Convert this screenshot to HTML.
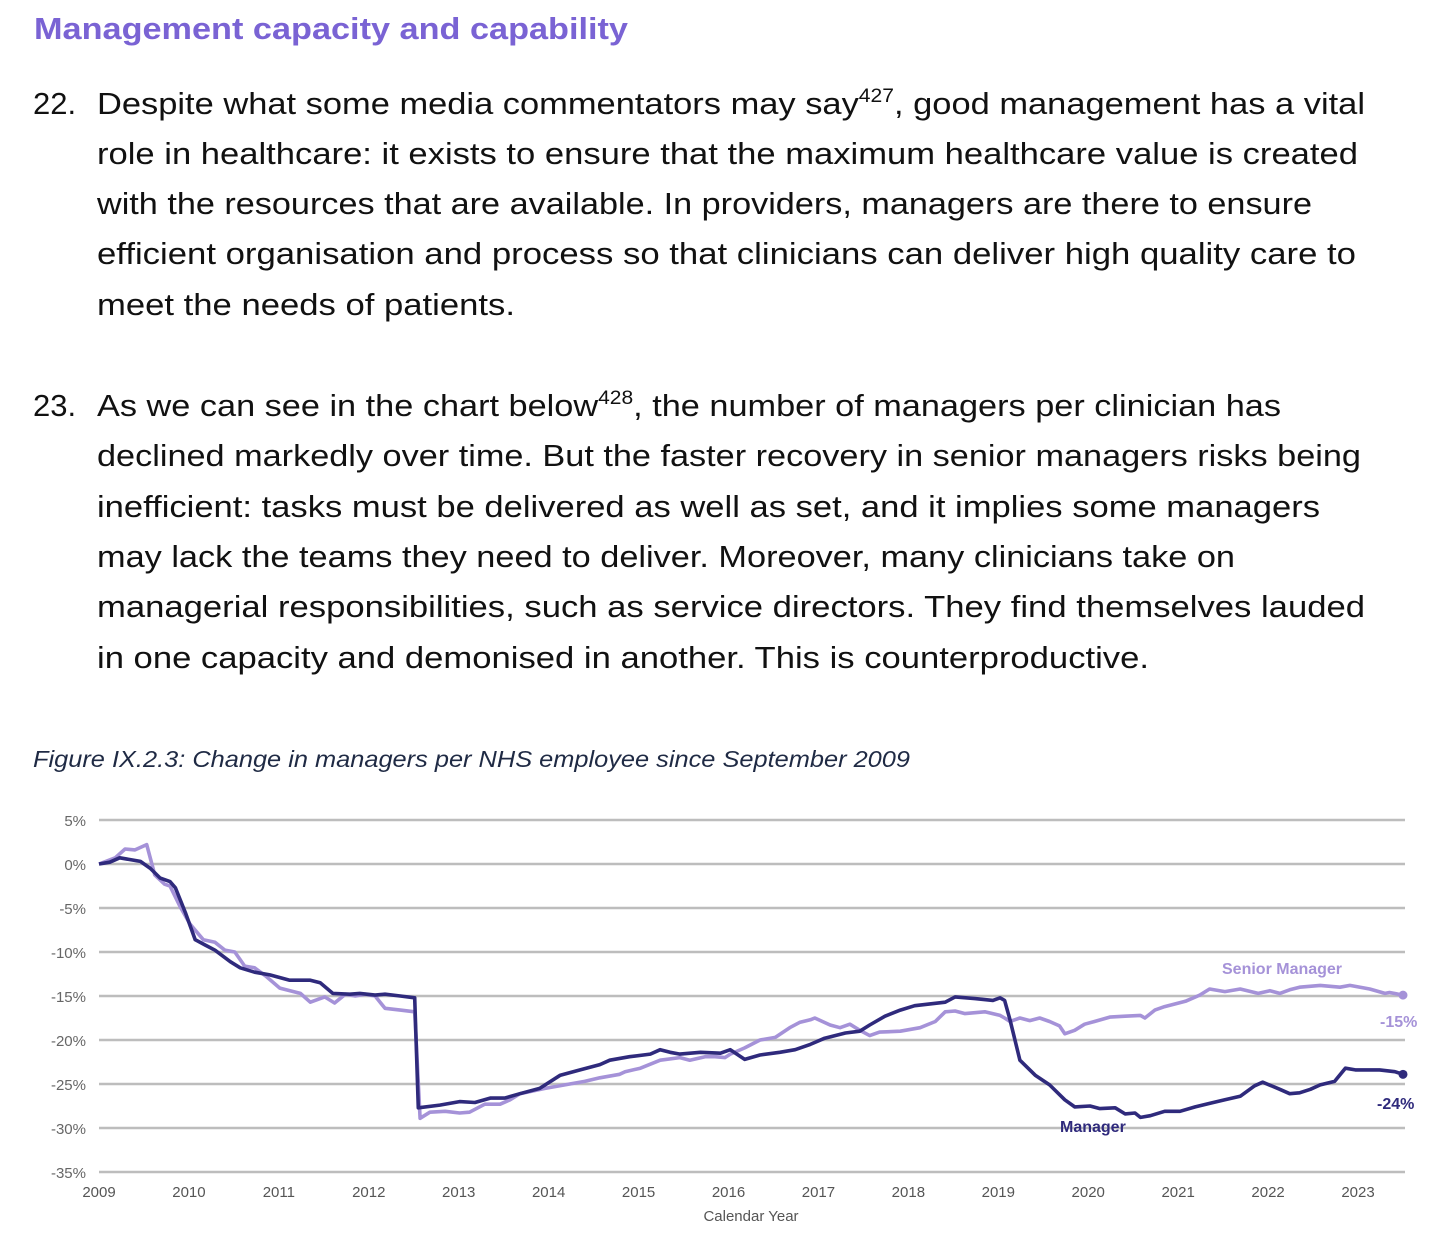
<!DOCTYPE html>
<html><head><meta charset="utf-8"><style>
body{margin:0;background:#fff;}
svg{display:block;font-family:"Liberation Sans",sans-serif;}
</style></head><body>
<svg id="page" width="1456" height="1247" viewBox="0 0 1456 1247">
<text x="34" y="39" font-size="31" font-weight="bold" fill="#7a63d4" textLength="594" lengthAdjust="spacingAndGlyphs">Management capacity and capability</text>
<g font-size="31" fill="#111">
<text x="33" y="114">22.</text>
<text x="97" y="114" textLength="1268" lengthAdjust="spacingAndGlyphs">Despite what some media commentators may say<tspan font-size="19" dy="-12">427</tspan><tspan dy="12">, good management has a vital</tspan></text>
<text x="97" y="164" textLength="1261" lengthAdjust="spacingAndGlyphs">role in healthcare: it exists to ensure that the maximum healthcare value is created</text>
<text x="97" y="214" textLength="1215" lengthAdjust="spacingAndGlyphs">with the resources that are available. In providers, managers are there to ensure</text>
<text x="97" y="264" textLength="1259" lengthAdjust="spacingAndGlyphs">efficient organisation and process so that clinicians can deliver high quality care to</text>
<text x="97" y="315" textLength="418" lengthAdjust="spacingAndGlyphs">meet the needs of patients.</text>
</g>
<g font-size="31" fill="#111">
<text x="33" y="416">23.</text>
<text x="97" y="416" textLength="1184" lengthAdjust="spacingAndGlyphs">As we can see in the chart below<tspan font-size="19" dy="-12">428</tspan><tspan dy="12">, the number of managers per clinician has</tspan></text>
<text x="97" y="466" textLength="1264" lengthAdjust="spacingAndGlyphs">declined markedly over time. But the faster recovery in senior managers risks being</text>
<text x="97" y="517" textLength="1223" lengthAdjust="spacingAndGlyphs">inefficient: tasks must be delivered as well as set, and it implies some managers</text>
<text x="97" y="567" textLength="1138" lengthAdjust="spacingAndGlyphs">may lack the teams they need to deliver. Moreover, many clinicians take on</text>
<text x="97" y="617" textLength="1268" lengthAdjust="spacingAndGlyphs">managerial responsibilities, such as service directors. They find themselves lauded</text>
<text x="97" y="668" textLength="1052" lengthAdjust="spacingAndGlyphs">in one capacity and demonised in another. This is counterproductive.</text>
</g>
<text x="33" y="767" font-size="23" font-style="italic" fill="#1f2a44" textLength="877" lengthAdjust="spacingAndGlyphs">Figure IX.2.3: Change in managers per NHS employee since September 2009</text>
<g id="chart"></g>
</svg>
<script>
const yTicks=[5,0,-5,-10,-15,-20,-25,-30,-35];
const yTickLabels=["5%","0%","-5%","-10%","-15%","-20%","-25%","-30%","-35%"];
const xTicks=[2009,2010,2011,2012,2013,2014,2015,2016,2017,2018,2019,2020,2021,2022,2023];
const managerYears=[0,0.12,0.23,0.46,0.57,0.68,0.79,0.85,0.96,1.07,1.18,1.29,1.46,1.57,1.73,1.90,2.12,2.35,2.46,2.60,2.79,2.90,3.07,3.18,3.35,3.51,3.55,3.79,4.01,4.18,4.35,4.51,4.68,4.90,5.13,5.35,5.57,5.68,5.90,6.13,6.24,6.35,6.46,6.69,6.91,7.02,7.18,7.35,7.57,7.74,7.91,8.07,8.30,8.46,8.57,8.74,8.91,9.07,9.41,9.52,9.74,9.94,10.02,10.07,10.13,10.24,10.41,10.57,10.74,10.85,11.02,11.13,11.30,11.41,11.52,11.58,11.69,11.85,12.02,12.19,12.35,12.52,12.69,12.85,12.94,13.13,13.24,13.35,13.47,13.58,13.74,13.86,13.97,14.24,14.41,14.50];
const managerValues=[0,0.2,0.7,0.3,-0.5,-1.6,-2.0,-2.7,-5.5,-8.6,-9.2,-9.8,-11.1,-11.8,-12.3,-12.6,-13.2,-13.2,-13.5,-14.7,-14.8,-14.7,-14.9,-14.8,-15.0,-15.2,-27.7,-27.4,-27.0,-27.1,-26.6,-26.6,-26.1,-25.5,-24.0,-23.4,-22.8,-22.3,-21.9,-21.6,-21.1,-21.4,-21.6,-21.4,-21.5,-21.1,-22.2,-21.7,-21.4,-21.1,-20.5,-19.8,-19.2,-19.0,-18.3,-17.3,-16.6,-16.1,-15.7,-15.1,-15.3,-15.5,-15.2,-15.5,-17.7,-22.3,-24.0,-25.1,-26.8,-27.6,-27.5,-27.8,-27.7,-28.4,-28.3,-28.8,-28.6,-28.1,-28.1,-27.6,-27.2,-26.8,-26.4,-25.2,-24.8,-25.6,-26.1,-26.0,-25.6,-25.1,-24.7,-23.2,-23.4,-23.4,-23.6,-23.9];
const seniorYears=[0,0.18,0.29,0.40,0.53,0.62,0.73,0.79,0.90,1.01,1.16,1.29,1.40,1.51,1.62,1.73,1.85,2.01,2.24,2.35,2.51,2.62,2.74,2.85,2.96,3.07,3.18,3.35,3.51,3.57,3.68,3.85,4.01,4.12,4.29,4.46,4.57,4.68,4.96,5.18,5.40,5.57,5.79,5.85,6.02,6.24,6.46,6.57,6.74,6.85,6.96,7.02,7.18,7.35,7.52,7.68,7.79,7.91,7.96,8.13,8.24,8.35,8.46,8.57,8.68,8.91,9.13,9.30,9.41,9.52,9.63,9.85,10.02,10.07,10.13,10.24,10.35,10.46,10.57,10.68,10.74,10.85,10.96,11.07,11.24,11.41,11.58,11.63,11.74,11.85,12.08,12.24,12.35,12.52,12.69,12.89,13.02,13.13,13.24,13.35,13.58,13.80,13.91,14.13,14.30,14.35,14.50];
const seniorValues=[0,0.7,1.7,1.6,2.2,-1.25,-2.3,-2.5,-4.8,-6.8,-8.6,-8.9,-9.8,-10.0,-11.6,-11.8,-12.7,-14.1,-14.7,-15.7,-15.1,-15.8,-14.8,-15.0,-14.8,-15.0,-16.4,-16.6,-16.8,-28.9,-28.2,-28.1,-28.3,-28.2,-27.3,-27.3,-26.8,-26.1,-25.5,-25.1,-24.7,-24.3,-23.9,-23.6,-23.2,-22.3,-22.0,-22.3,-21.9,-21.9,-22.0,-21.6,-20.9,-20.0,-19.7,-18.6,-18.0,-17.7,-17.5,-18.3,-18.6,-18.2,-18.9,-19.5,-19.1,-19.0,-18.6,-17.9,-16.8,-16.7,-17.0,-16.8,-17.2,-17.5,-17.9,-17.5,-17.8,-17.5,-17.9,-18.4,-19.3,-18.9,-18.2,-17.9,-17.4,-17.3,-17.2,-17.5,-16.6,-16.2,-15.6,-14.9,-14.2,-14.5,-14.2,-14.7,-14.4,-14.7,-14.3,-14.0,-13.8,-14.0,-13.8,-14.2,-14.7,-14.6,-14.9];
const endLabels=["-15%","-24%"];

const NS="http://www.w3.org/2000/svg";
const g=document.getElementById('chart');
const X=yr=>99+yr*89.93;
const Y=v=>864-v*8.8;
function el(t,a,txt){const e=document.createElementNS(NS,t);for(const k in a)e.setAttribute(k,a[k]);if(txt!==undefined)e.textContent=txt;g.appendChild(e);return e;}
yTicks.forEach((v,i)=>{
  const l=el('line',{x1:99,x2:1405,y1:Y(v),y2:Y(v),stroke:'#bdbdbd','stroke-width':2.5});
  
  
  const t=el('text',{x:86,y:Y(v)+6,'text-anchor':'end','font-size':15,fill:'#666'},yTickLabels[i]);
  
  
});
xTicks.forEach(yr=>{
  const t=el('text',{x:X(yr-2009),y:1197,'text-anchor':'middle','font-size':15,fill:'#555'},String(yr));
  
  
});
const xt=el('text',{x:751,y:1221,'text-anchor':'middle','font-size':15,fill:'#555'},'Calendar Year');


function series(xs,vs,color,name){
  const d=xs.map((x,i)=>(i?'L':'M')+X(x).toFixed(1)+' '+Y(vs[i]).toFixed(1)).join(' ');
  const p=el('path',{d:d,fill:'none',stroke:color,'stroke-width':3.6,'stroke-linejoin':'round'});
  
  
  const n=xs.length-1;
  const c=el('circle',{cx:X(xs[n]),cy:Y(vs[n]),r:4.5,fill:color});
  
  
}
series(seniorYears,seniorValues,'#a592d8','senior-manager-line');
series(managerYears,managerValues,'#2f2a7c','manager-line');
const s1=el('text',{x:1222,y:974,'font-size':16,'font-weight':'bold',fill:'#a592d8'},'Senior Manager');


const s2=el('text',{x:1380,y:1027,'font-size':16,'font-weight':'bold',fill:'#a592d8'},endLabels[0]);


const m1=el('text',{x:1060,y:1132,'font-size':16,'font-weight':'bold',fill:'#2f2a7c'},'Manager');


const m2=el('text',{x:1377,y:1109,'font-size':16,'font-weight':'bold',fill:'#2f2a7c'},endLabels[1]);


</script>
</body></html>
